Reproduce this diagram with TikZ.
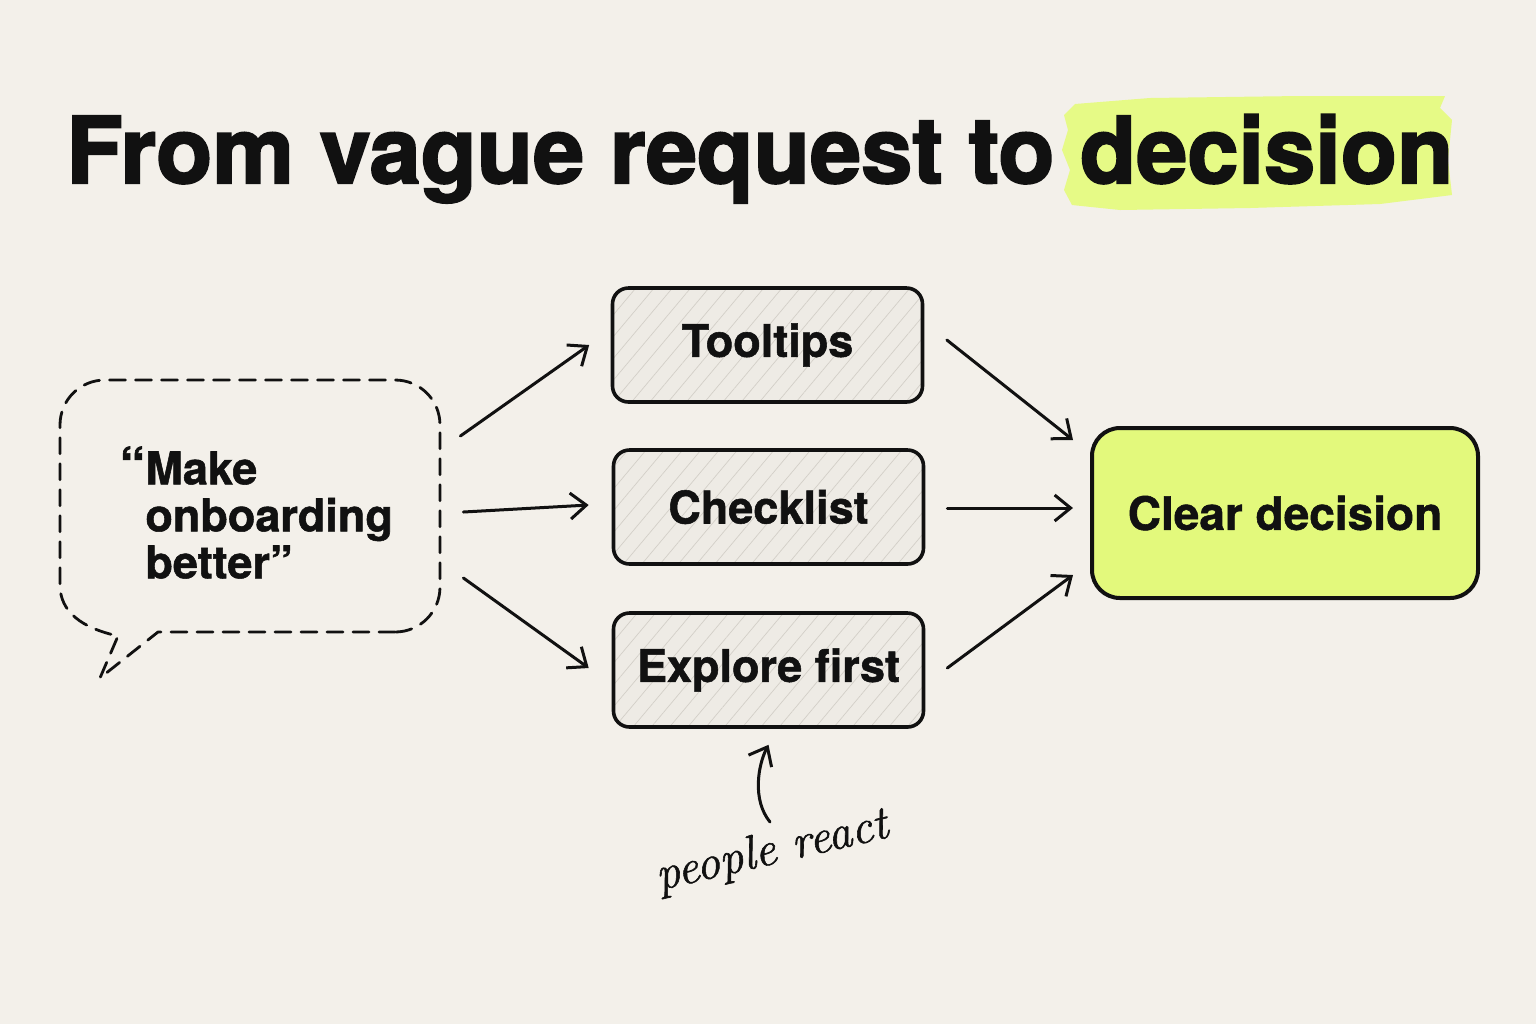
\documentclass[tikz,border=0pt]{standalone}
\usepackage{fontspec}
\setmainfont{TeX Gyre Heros}[BoldFeatures={FakeBold=1.2}]
\newfontfamily\titlefont{TeX Gyre Heros}[BoldFeatures={FakeBold=2.2}]
\newfontfamily\handfont{Latin Modern Roman}[ItalicFeatures={FakeBold=1.2}]
\usetikzlibrary{arrows.meta,patterns.meta,calc}
\definecolor{bg}{HTML}{F3F0EA}
\definecolor{lime}{HTML}{E3F97C}
\definecolor{limehl}{HTML}{E6FA86}
\definecolor{hatchfill}{HTML}{EEEBE5}
\definecolor{hatchline}{HTML}{D3CFC8}
\definecolor{ink}{HTML}{111111}
\begin{document}
\begin{tikzpicture}[x=0.5pt,y=-0.5pt,
  opt/.style={draw=ink, line width=1.8pt, rounded corners=8pt, minimum width=155pt, minimum height=57pt,
    font=\fontsize{22.5}{27}\selectfont\bfseries, text=ink, preaction={fill=hatchfill},
    pattern={Lines[angle=50,distance=7pt,line width=0.35pt]}, pattern color=hatchline},
  arr/.style={-{Straight Barb[length=8pt,width=13pt,line width=1.5pt]}, line width=1.5pt, draw=ink, line cap=round},
  bubble/.style={draw=ink, line width=1.4pt, dash pattern=on 8pt off 5pt, line cap=round, line join=round},
]
\fill[bg] (0,0) rectangle (1536,1024);
\useasboundingbox (0,0) rectangle (1536,1024);

% highlight
\fill[limehl] (1075,104) -- (1150,98) -- (1300,96) -- (1445,96) -- (1440,108) -- (1452,120) -- (1448,160) -- (1452,195) -- (1380,204) -- (1250,208) -- (1120,210) -- (1072,205) -- (1064,190) -- (1070,170) -- (1062,150) -- (1068,130) -- (1064,115) -- cycle;
\node[anchor=base west, inner sep=0, font=\titlefont\fontsize{46}{50}\selectfont\bfseries, text=ink] (title) at (66,183) {From vague request to decision};

% bubble
\node[minimum width=190pt, minimum height=126pt, inner sep=0] (bub) at (250,506) {};
\draw[bubble] (395,632) -- (158,632) -- (100,678) -- (118,636)
  .. controls (82,628) and (60,612) .. (60,585) -- (60,425)
  .. controls (60,400) and (80,380) .. (105,380) -- (395,380)
  .. controls (420,380) and (440,400) .. (440,425) -- (440,587)
  .. controls (440,612) and (420,632) .. (395,632);
\node[anchor=north west, align=left, inner sep=0, font=\fontsize{22.5}{23.5}\selectfont\bfseries, text=ink] (btxt) at (145,446) {\llap{\fontsize{26}{26}\selectfont“}Make\\onboarding\\better”};

% options
\node[opt] (t1) at (767.5,345) {Tooltips};
\node[opt] (t2) at (768.5,507) {Checklist};
\node[opt] (t3) at (768.5,670) {Explore first};

\node[draw=ink, line width=2pt, fill=lime, rounded corners=14pt, minimum width=193pt, minimum height=85pt,
  font=\fontsize{23}{28}\selectfont\bfseries, text=ink] (cd) at (1285,513) {Clear decision};

% arrows
\draw[arr] ([shift={(20,-70)}]bub.east) -- ([xshift=-11.5pt]t1.west);
\draw[arr] ([shift={(23,6)}]bub.east) -- ([shift={(-23,-2)}]t2.west);
\draw[arr] ([shift={(23,72)}]bub.east) -- ([shift={(-23,-2)}]t3.west);
\draw[arr] ([shift={(24,-5)}]t1.east) -- ([shift={(-17,-73)}]cd.west);
\draw[arr] ([shift={(22,1)}]t2.east) -- ([shift={(-17,-5)}]cd.west);
\draw[arr] ([shift={(22,-2)}]t3.east) -- ([shift={(-17,62)}]cd.west);

% annotation
\node[font=\handfont\itshape\fontsize{24}{26}\selectfont, text=ink, rotate=13] (pr) at (772,852) {people react};
\coordinate (prtop) at (770,822);
\draw[arr] (prtop) .. controls (752,800) and (758,765) .. ([yshift=-8pt]t3.south);
\end{tikzpicture}
\end{document}
